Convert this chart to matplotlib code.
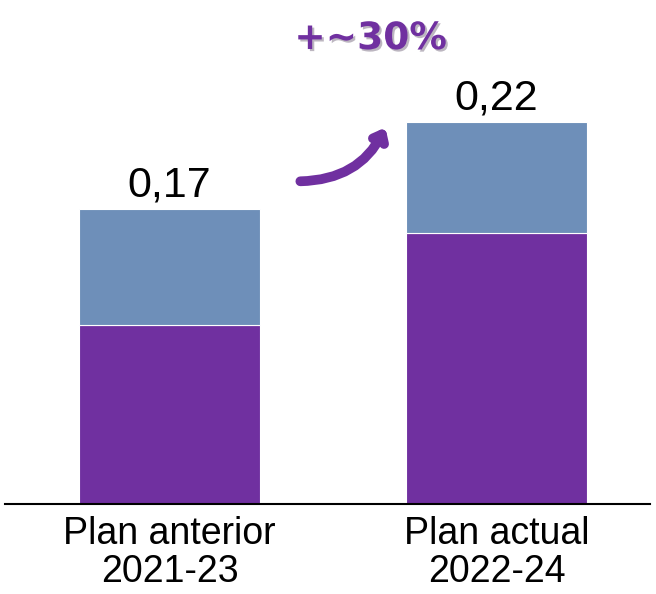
import matplotlib.pyplot as plt
import matplotlib.patheffects as pe

categories = ['Plan anterior\n2021-23', 'Plan actual\n2022-24']
lower = [0.103, 0.156]
upper = [0.067, 0.064]
totals = ['0,17', '0,22']
growth = '+~30%'

purple = '#7030A0'
blue = '#6E8FB9'

plt.rcParams['font.family'] = ['Liberation Sans', 'DejaVu Sans']

fig = plt.figure(figsize=(6.56, 5.94), dpi=100)
ax = fig.add_axes([5 / 656, 90 / 594, 645 / 656, 504 / 594])

x = range(len(categories))
ax.bar(x, lower, width=0.553, color=purple, edgecolor='white', linewidth=0.8)
ax.bar(x, upper, bottom=lower, width=0.553, color=blue, edgecolor='white', linewidth=0.8)

for i, t in enumerate(totals):
    ax.text(i, lower[i] + upper[i] + 0.002, t, ha='center', va='bottom', fontsize=31)

ax.set_xlim(-0.503, 1.469)
ax.set_ylim(0, 0.2905)
ax.set_xticks(list(x))
ax.set_xticklabels(categories, fontsize=27, linespacing=1.05)
ax.tick_params(axis='x', length=0, pad=9)
ax.set_yticks([])
for s in ['left', 'right', 'top']:
    ax.spines[s].set_visible(False)
ax.spines['bottom'].set_linewidth(1.5)

# growth arrow and label
ax.annotate('', xy=(0.66, 0.217), xytext=(0.40, 0.186),
            arrowprops=dict(arrowstyle='->,head_length=0.55,head_width=0.45',
                            color=purple, lw=7, capstyle='round', joinstyle='round',
                            connectionstyle='arc3,rad=0.3',
                            shrinkA=0, shrinkB=0))
ax.text(0.615, 0.268, growth, ha='center', va='center', fontsize=27,
        fontweight='bold', color=purple, family='DejaVu Sans',
        path_effects=[pe.SimplePatchShadow(offset=(1.5, -1.5), alpha=0.3), pe.Normal()])

fig.savefig('out.png', dpi=100)
